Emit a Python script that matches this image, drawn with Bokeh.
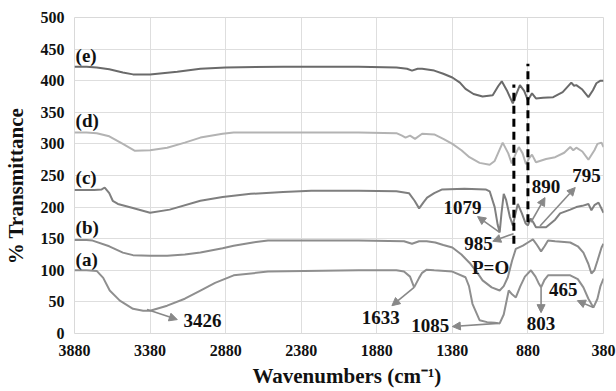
from bokeh.plotting import figure
from bokeh.models import Range1d, FixedTicker, Arrow, NormalHead, ColumnDataSource
from bokeh.core.properties import value
from bokeh.embed import file_html
from bokeh.resources import INLINE

# ---- data ----
x_ticks = [3880, 3380, 2880, 2380, 1880, 1380, 880, 380]
y_ticks = [0, 50, 100, 150, 200, 250, 300, 350, 400, 450, 500]

e_w = [3880, 3800, 3733, 3650, 3560, 3493, 3380, 3200, 3047, 2880, 2500, 2000, 1750, 1680, 1647, 1610, 1580,
       1500, 1440, 1380, 1330, 1293, 1240, 1180, 1113, 1075, 1053, 1020, 980, 955, 933, 905, 880, 853, 827,
       780, 713, 650, 593, 575, 560, 520, 480, 450, 427, 400, 380]
e_v = [422, 422, 421, 418, 413, 410, 410, 414, 419, 421, 422, 422, 421, 419, 416, 419, 419,
       416, 411, 405, 397, 387, 379, 375, 377, 392, 399, 385, 364, 380, 393, 384, 369, 380, 372,
       373, 374, 382, 397, 392, 393, 386, 374, 385, 396, 400, 400]

d_w = [3880, 3800, 3733, 3650, 3560, 3480, 3380, 3267, 3150, 3047, 2900, 2827, 2500, 2000, 1750, 1713, 1690,
       1660, 1627, 1580, 1500, 1440, 1380, 1320, 1267, 1200, 1133, 1100, 1047, 1010, 987, 960, 940, 915, 893,
       870, 853, 827, 760, 700, 640, 600, 580, 560, 520, 480, 440, 420, 393, 380]
d_v = [318, 318, 317, 312, 300, 289, 290, 294, 302, 310, 316, 318, 318, 318, 317, 313, 310,
       313, 308, 316, 315, 308, 300, 290, 279, 270, 267, 273, 302, 285, 269, 285, 295, 285, 268,
       278, 283, 271, 276, 279, 286, 295, 290, 294, 288, 275, 290, 300, 302, 295]

c_w = [3880, 3750, 3700, 3680, 3650, 3627, 3593, 3500, 3380, 3250, 3047, 2900, 2713, 2500, 2313, 2000, 1750,
       1667, 1630, 1600, 1570, 1547, 1500, 1447, 1300, 1160, 1133, 1100, 1080, 1067, 1055, 1040, 1025, 1000,
       980, 962, 947, 920, 895, 880, 862, 845, 827, 760, 700, 667, 600, 560, 520, 480, 460, 440, 413, 380]
c_v = [227, 227, 228, 231, 222, 210, 205, 199, 191, 196, 210, 216, 221, 224, 226, 226, 225,
       222, 210, 198, 208, 215, 222, 228, 229, 228, 225, 200, 172, 160, 190, 221, 212, 185,
       171, 190, 205, 190, 174, 171, 182, 176, 168, 168, 180, 190, 196, 200, 202, 205, 195, 203, 207, 191]

b_w = [3880, 3800, 3760, 3650, 3560, 3493, 3380, 3267, 3150, 3047, 2900, 2827, 2700, 2600, 2000, 1700, 1647,
       1600, 1550, 1493, 1440, 1380, 1320, 1267, 1220, 1180, 1120, 1067, 1040, 1013, 985, 960, 913, 880, 847,
       820, 793, 770, 747, 700, 600, 550, 513, 480, 460, 440, 420, 393, 380]
b_v = [148, 148, 147, 138, 128, 124, 123, 123, 125, 128, 135, 139, 144, 147, 147, 146, 142,
       146, 146, 144, 140, 136, 125, 112, 98, 84, 73, 68, 75, 89, 115, 134, 139, 144, 149,
       140, 130, 138, 147, 146, 144, 138, 128, 110, 95, 100, 115, 136, 142]

a_w = [3880, 3800, 3733, 3690, 3647, 3580, 3493, 3426, 3380, 3267, 3150, 3047, 2950, 2827, 2600, 2000, 1750,
       1700, 1660, 1633, 1600, 1580, 1550, 1500, 1380, 1293, 1270, 1247, 1200, 1150, 1100, 1067, 1040, 1007,
       985, 960, 930, 900, 860, 830, 810, 793, 770, 747, 700, 600, 550, 513, 480, 447, 420, 400, 380]
a_v = [100, 100, 99, 88, 68, 52, 39, 36, 36, 44, 55, 68, 80, 92, 98, 100, 100,
       98, 90, 73, 88, 96, 101, 100, 98, 89, 75, 47, 21, 18, 17, 16, 30, 68,
       62, 57, 75, 90, 100, 90, 80, 73, 85, 92, 92, 92, 86, 73, 55, 41, 55, 75, 87]

curve_names = ["(e)", "(d)", "(c)", "(b)", "(a)"]
label_w = [3873, 3873, 3873, 3873, 3873]
label_v = [440, 337, 247, 168, 117]

ann_text = ["3426", "1633", "1085", "803", "465", "P=O", "985", "1079", "890", "795"]
ann_w = [3033, 1853, 1527, 793, 647, 1127, 1207, 1313, 760, 493]
ann_v = [20, 25, 13, 16, 70, 104, 142, 200, 233, 250]

arr_w0 = [3400, 1633, 1080, 793, 447, 975, 1067, 860, 800]
arr_v0 = [38, 73, 16, 73, 41, 158, 160, 176, 170]
arr_w1 = [3200, 1780, 1380, 793, 553, 1113, 1213, 767, 567]
arr_v1 = [22, 44, 11, 33, 52, 146, 185, 215, 231]

dash_w = [973, 880]
dash_v0 = [142, 176]
dash_v1 = [394, 427]

# ---- figure ----
FONT = "Liberation Serif"
NB = "\u00a0"
p = figure(width=616, height=391, output_backend="svg", toolbar_location=None,
           x_range=Range1d(3880, 380), y_range=Range1d(0, 500),
           min_border_left=73, min_border_right=13, min_border_top=17, min_border_bottom=58)
p.background_fill_color = "white"
p.border_fill_color = "white"
p.outline_line_color = "#d9d9d9"

for ax in (p.xaxis[0], p.yaxis[0]):
    ax.axis_line_color = None
    ax.major_tick_line_color = None
    ax.minor_tick_line_color = None
    ax.major_tick_out = 0
    ax.major_tick_in = 0
    ax.minor_tick_out = 0
    ax.minor_tick_in = 0
    ax.major_label_text_font = FONT
    ax.major_label_text_font_style = "bold"
    ax.major_label_text_font_size = "16px"
    ax.major_label_text_color = "#111111"
    ax.axis_label_text_font = FONT
    ax.axis_label_text_font_style = "bold"
    ax.axis_label_text_font_size = "21px"
    ax.axis_label_text_color = "#111111"

p.xaxis.ticker = FixedTicker(ticks=x_ticks)
p.yaxis.ticker = FixedTicker(ticks=y_ticks)
p.xaxis.axis_label = NB * 3 + "Wavenumbers (cm\u207b\u00b9)"
p.yaxis.axis_label = "% Transmittance" + NB * 4
p.xaxis.major_label_standoff = 11
p.yaxis.major_label_standoff = 10
p.xaxis.axis_label_standoff = 5
p.yaxis.axis_label_standoff = 10

p.xgrid.ticker = FixedTicker(ticks=x_ticks)
p.ygrid.ticker = FixedTicker(ticks=y_ticks)
p.grid.grid_line_color = "#dedede"
p.grid.grid_line_width = 1

colors = ["#6a6a6a", "#b3b3b3", "#7f7f7f", "#8c8c8c", "#8f8f8f"]
for (w, v), c in zip([(e_w, e_v), (d_w, d_v), (c_w, c_v), (b_w, b_v), (a_w, a_v)], colors):
    p.line(w, v, line_color=c, line_width=2)

p.segment(x0=dash_w, y0=dash_v0, x1=dash_w, y1=dash_v1, line_color="black",
          line_width=3, line_dash="8 5")

arr_src = ColumnDataSource(dict(x0=arr_w0, y0=arr_v0, x1=arr_w1, y1=arr_v1))
p.add_layout(Arrow(end=NormalHead(size=8, fill_color="#888888", line_color="#888888"),
                   x_start="x0", y_start="y0", x_end="x1", y_end="y1", source=arr_src,
                   line_color="#888888", line_width=1.6))

p.text(x=label_w, y=label_v, text=curve_names, text_font=value(FONT), text_font_style="bold",
       text_font_size="19px", text_align="left", text_baseline="middle", text_color="#111111")
p.text(x=ann_w, y=ann_v, text=ann_text, text_font=value(FONT), text_font_style="bold",
       text_font_size="19px", text_align="center", text_baseline="middle", text_color="#111111")

open("out.html", "w").write(file_html(p, INLINE))
